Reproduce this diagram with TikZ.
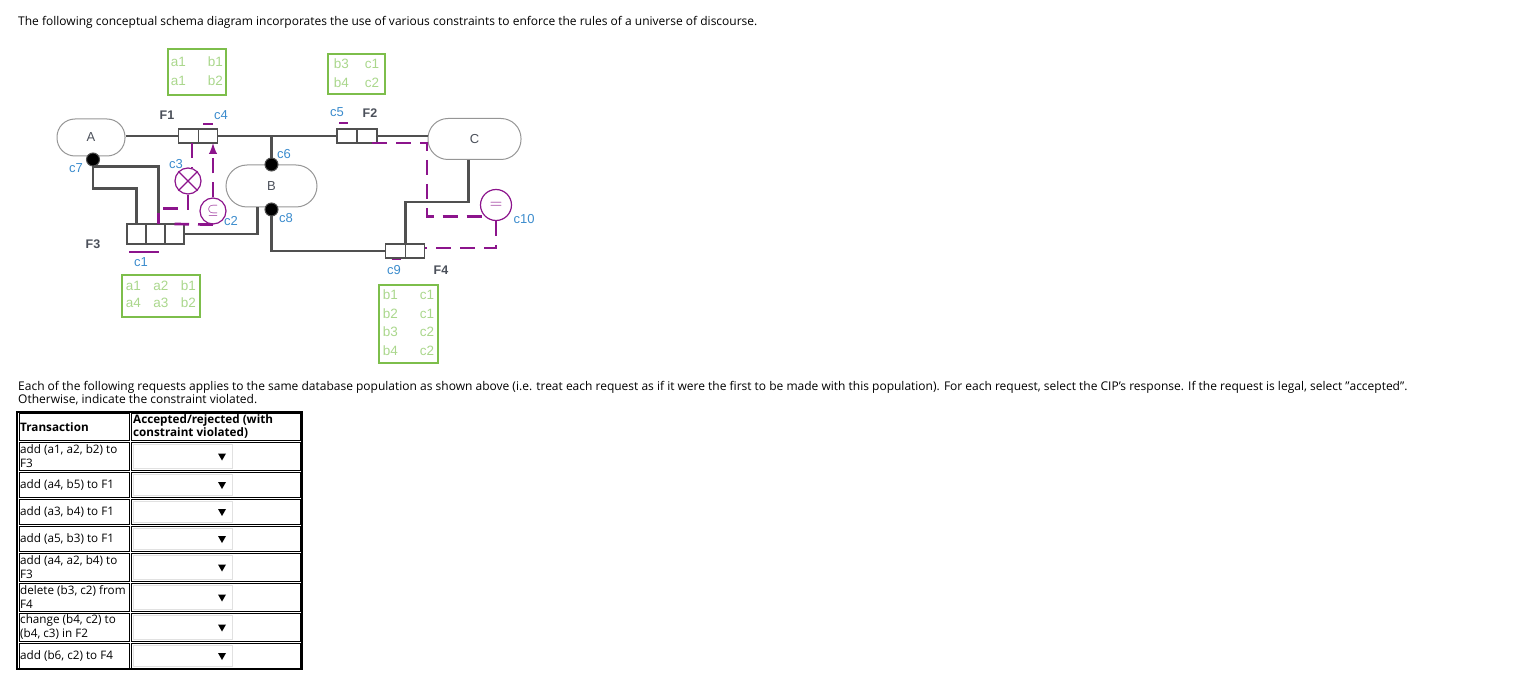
\documentclass[tikz,border=0pt]{standalone}
\usepackage{fontspec}
\setmainfont{Open Sans}
\newfontfamily\arialfont{Liberation Sans}
\usetikzlibrary{arrows,calc,positioning}
\definecolor{entgray}{RGB}{150,150,150}
\definecolor{boxgray}{RGB}{80,80,80}
\definecolor{linegray}{RGB}{80,80,80}
\definecolor{labgray}{RGB}{75,80,90}
\definecolor{cblue}{RGB}{60,140,205}
\definecolor{cmag}{RGB}{140,20,140}
\definecolor{popgreen}{RGB}{125,190,75}
\definecolor{poptext}{RGB}{170,215,140}
\definecolor{dropgray}{RGB}{225,225,225}
\newcommand\popfont[1]{\arialfont\fontsize{13.5}{#1}\selectfont}

\begin{document}
\begin{tikzpicture}[x=1pt,y=-1pt]
             \tikzstyle{txt}=[inner sep=0pt, font=\fontsize{12}{14}\selectfont]
             \tikzstyle{entity}=[draw=entgray, line width=1pt, rounded corners=18pt, text=labgray, font=\arialfont\fontsize{13}{15}\selectfont]
             \tikzstyle{role}=[draw=boxgray, line width=1.2pt, fill=white, minimum width=19.5pt, minimum height=14pt, inner sep=0pt, outer sep=0pt]
             \tikzstyle{link}=[draw=linegray, line width=2.5pt]
             \tikzstyle{cons}=[draw=cmag, line width=2.7pt, dash pattern=on 15pt off 9pt]
             \tikzstyle{bar}=[draw=cmag, line width=1.3pt]
             \tikzstyle{ccirc}=[circle, draw=cmag, line width=1.2pt, fill=white, minimum size=26pt, inner sep=0pt, text=cmag]
             \tikzstyle{dot}=[circle, fill=black, draw=linegray, line width=1pt, minimum size=13pt, inner sep=0pt]
             \tikzstyle{clab}=[inner sep=0pt, text=cblue, font=\arialfont\fontsize{13}{15}\selectfont]
             \tikzstyle{flab}=[inner sep=0pt, text=labgray, font=\arialfont\bfseries\fontsize{12.5}{15}\selectfont]
             \tikzstyle{pop}=[draw=popgreen, line width=2pt, text=poptext, inner sep=0pt]
             \tikzstyle{cell}=[draw=black, line width=1pt]
             \tikzstyle{drop}=[draw=dropgray, line width=0.8pt]
            \useasboundingbox (0,0) rectangle (1516,687);
            \node[txt, anchor=base west] (head) at (18,26) {The following conceptual schema diagram incorporates the use of various constraints to enforce the rules of a universe of discourse.};
            % entity types
            \node[entity, minimum width=68pt, minimum height=37pt] (A) at (91,137.5) {A};
            \node[entity, minimum width=91pt, minimum height=42pt, rounded corners=21pt] (B) at (271.5,186) {B};
            \node[entity, minimum width=93pt, minimum height=41pt, rounded corners=20pt] (C) at (474.5,139) {C};
            % fact types
            \node[role] (F1a) at (188.5,136) {};
            \node[role, right=0pt of F1a] (F1b) {};
            \node[role, minimum width=20pt] (F2a) at (347,136) {};
            \node[role, minimum width=20pt, right=0pt of F2a] (F2b) {};
            \node[role, minimum width=19pt, minimum height=20pt] (F3a) at (136.5,234) {};
            \node[role, minimum width=19pt, minimum height=20pt, right=0pt of F3a] (F3b) {};
            \node[role, minimum width=19pt, minimum height=20pt, right=0pt of F3b] (F3c) {};
            \node[role] (F4a) at (395.5,251) {};
            \node[role, right=0pt of F4a] (F4b) {};
            \coordinate (c7p) at ($(A.south)+(2,3)$);
            % roles to entities
            \draw[link] (F1a.west -| A.east) -- (F1a.west);
            \draw[link] (F1b.east) -- (F2a.west);
            \draw[link] (F2b.east) -- (F2b.east -| C.west);
            \draw[link] (B.north) -- (B.north |- F1b.east);
            \draw[link] (c7p) -- ++(0,29) -| (F3a.north);
            \draw[link] ($(c7p)+(0,7)$) -| ($(F3b.north)+(3,0)$);
            \draw[link] (F3c.east) -| ($(B.south)+(-14,0)$);
            \draw[link] (B.south) |- (F4a.west);
            \draw[link] ($(C.south)+(-6,0)$) -- ++(0,42) -| (F4a.north east);
            \node[dot] (c6) at (B.north) {};
            \node[dot] (c7) at (c7p) {};
            \node[dot] (c8) at ($(B.south)+(0,2)$) {};
            % constraints
            \node[ccirc, minimum size=26pt] (c3) at (188,181) {};
            \draw[cmag, line width=1.2pt] (c3.north west) -- (c3.south east) (c3.north east) -- (c3.south west);
            \node[ccirc, minimum size=26pt, font=\Large] (c2) at (213,211) {$\subseteq$};
            \node[ccirc, minimum size=31pt, font=\LARGE] (c10) at (496,205) {$=$};
            \coordinate (d3) at ($(F1a.south)+(3.5,0)$);
            \draw[cons] (d3) -- (d3 |- c3.north);
            \draw[cons] (c3.south) -- ++(0,14) -| ($(F3b.north)+(3,0)$);
            \draw[cons, -latex] (c2.north) -- (c2.north |- F1b.south);
            \draw[cons] (c2.south) -- (F3c.north);
            \draw[cons] ($(F2b.south)+(5,0)$) -- ++(55,0) |- (c10.south west);
            \draw[cons] (c10.south) |- ($(F4b.east)+(0,-3)$);
            \draw[bar] ($(F1b.north)+(-5,-5)$) -- ++(10,0);
            \draw[bar] ($(F2a.north)+(-8,-6)$) -- ++(9,0);
            \draw[bar] ($(F3a.south west)+(2,8)$) -- ($(F3b.south east)+(-6,8)$);
            \draw[bar] ($(F4a.south)+(-4,1.5)$) -- ++(9,0);
            % labels
            \node[flab] (lF1) at (167,115) {F1};
            \node[flab] (lF2) at (370,113) {F2};
            \node[flab] (lF3) at (93,244) {F3};
            \node[flab] (lF4) at (441,270) {F4};
            \node[clab] (lc1) at (141,262) {c1};
            \node[clab] (lc2) at (231,221) {c2};
            \node[clab] (lc3) at (176,164) {c3};
            \node[clab] (lc4) at (221,115) {c4};
            \node[clab] (lc5) at (337,112) {c5};
            \node[clab] (lc6) at (284,154) {c6};
            \node[clab] (lc7) at (76,168) {c7};
            \node[clab] (lc8) at (286,218) {c8};
            \node[clab] (lc9) at (394,270) {c9};
            \node[clab] (lc10) at (524,219) {c10};
            % populations
            \node[pop, minimum width=58pt, minimum height=46pt] (P1) at (197,72) {\popfont{19}\begin{tabular}{@{}l@{\hspace{22pt}}l@{}}a1&b1\\a1&b2\end{tabular}};
            \node[pop, minimum width=57pt, minimum height=40pt] (P2) at (356.5,74) {\popfont{19}\begin{tabular}{@{}l@{\hspace{16pt}}l@{}}b3&c1\\b4&c2\end{tabular}};
            \node[pop, minimum width=78pt, minimum height=42pt] (P3) at (161,296) {\popfont{17}\begin{tabular}{@{}l@{\hspace{12.5pt}}l@{\hspace{12.5pt}}l@{}}a1&a2&b1\\a4&a3&b2\end{tabular}};
            \node[pop, minimum width=59pt, minimum height=78pt] (P4) at (408.5,324) {\popfont{18.5}\begin{tabular}{@{}l@{\hspace{22pt}}l@{}}b1&c1\\b2&c1\\b3&c2\\b4&c2\end{tabular}};
            % requests
            \node[txt, anchor=base west] (par1) at (18,390) {Each of the following requests applies to the same database population as shown above (i.e. treat each request as if it were the first to be made with this population). For each request, select the CIP's response. If the request is legal, select "accepted".};
            \node[txt, anchor=base west] (par2) at (18,403) {Otherwise, indicate the constraint violated.};
            \draw[line width=2pt] (17,412) rectangle (302,669);
            \foreach \ya/\yb in {412/441,441/471,471/498,498/525,525/552,552/582,582/612,612/642,642/669}
              {\draw[cell] (19,\ya+1.5) rectangle (129.5,\yb-1);
               \draw[cell] (131,\ya+1.5) rectangle (300.5,\yb-1);}
            \foreach \ya/\yb in {441/471,471/498,498/525,525/552,552/582,582/612,612/642,642/669}
              {\draw[drop] (133,\ya+3.5) rectangle (232,\yb-3);
               \fill (218,{(\ya+\yb)/2-2.5}) -- ++(8,0) -- ++(-4,7) -- cycle;}
            \node[txt, anchor=west, font=\bfseries\fontsize{11.7}{14}\selectfont] (th1) at (20,427) {Transaction};
            \node[txt, anchor=west, align=left, font=\bfseries\fontsize{11.7}{13.5}\selectfont] (th2) at (133,426.5) {Accepted/rejected (with\\constraint violated)};
            \node[txt, anchor=west, align=left, font=\fontsize{11.7}{14}\selectfont] (t1) at (20,456) {add (a1, a2, b2) to\\F3};
            \node[txt, anchor=west, font=\fontsize{11.7}{14}\selectfont] (t2) at (20,484.5) {add (a4, b5) to F1};
            \node[txt, anchor=west, font=\fontsize{11.7}{14}\selectfont] (t3) at (20,511.5) {add (a3, b4) to F1};
            \node[txt, anchor=west, font=\fontsize{11.7}{14}\selectfont] (t4) at (20,538.5) {add (a5, b3) to F1};
            \node[txt, anchor=west, align=left, font=\fontsize{11.7}{14}\selectfont] (t5) at (20,567) {add (a4, a2, b4) to\\F3};
            \node[txt, anchor=west, align=left, font=\fontsize{11.7}{14}\selectfont] (t6) at (20,597) {delete (b3, c2) from\\F4};
            \node[txt, anchor=west, align=left, font=\fontsize{11.7}{14}\selectfont] (t7) at (20,627) {change (b4, c2) to\\(b4, c3) in F2};
            \node[txt, anchor=west, font=\fontsize{11.7}{14}\selectfont] (t8) at (20,655.5) {add (b6, c2) to F4};
\end{tikzpicture}
\end{document}
